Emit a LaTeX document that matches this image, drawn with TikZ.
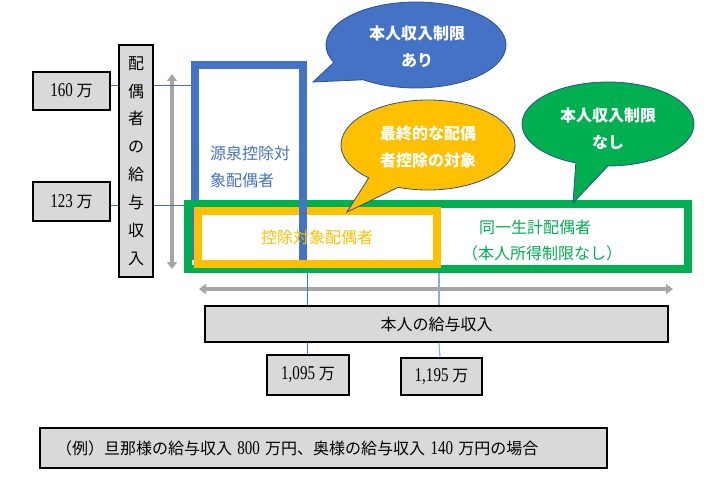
\documentclass[tikz,border=0pt]{standalone}
\usepackage{fontspec}
\setmainfont{Noto Sans CJK JP}
\newfontfamily\dgfont[Scale=1.22, FakeStretch=0.77]{Liberation Serif}
\usetikzlibrary{arrows.meta,calc}
\definecolor{boxgray}{HTML}{D9D9D9}
\definecolor{oblue}{HTML}{4472C4}
\definecolor{ogreen}{HTML}{00B050}
\definecolor{oyellow}{HTML}{FFC000}
\definecolor{ogray}{HTML}{A6A6A6}
\definecolor{outl}{HTML}{2F528F}
\definecolor{lblue}{HTML}{8FAADC}
\newcommand\fs{\fontsize{16}{19}\selectfont}
\begin{document}
\begin{tikzpicture}[x=1pt,y=-1pt,
  graybox/.style={draw=black, line width=1.2pt, fill=boxgray, inner sep=0pt, font=\fs},
  thinblue/.style={draw=oblue, line width=1pt},
  thinlblue/.style={draw=lblue, line width=1.1pt},
  grayarrow/.style={draw=ogray, line width=4.5pt, {Triangle[width=10pt,length=7pt]}-{Triangle[width=10pt,length=7pt]}},
  frame/.style={line width=8pt},
  bubble/.style={line width=0.8pt, draw=outl},
  bubtext/.style={text=white, align=center, font=\fontsize{16}{27}\selectfont\bfseries}]
\useasboundingbox (0,0) rectangle (708,478);

% boxes
\node[graybox, minimum width=77pt, minimum height=38pt] (b160) at (71.5,91) {{\dgfont 160 }万};
\node[graybox, minimum width=77pt, minimum height=39pt] (b123) at (71.5,201.5) {{\dgfont 123 }万};
\node[graybox, minimum width=34pt, minimum height=232pt, align=center,
      font=\fontsize{16}{27.86}\selectfont] (vlab) at (136,161) {配\\偶\\者\\の\\給\\与\\収\\入};
\node[graybox, minimum width=463pt, minimum height=36pt] (honnin) at (436.5,324) {本人の給与収入};
\node[graybox, minimum width=82pt, minimum height=40pt] (n1095) at (308,375) {{\dgfont 1,095 }万};
\node[graybox, minimum width=81pt, minimum height=37pt] (n1195) at (441.5,376.5) {{\dgfont 1,195 }万};
\node[graybox, minimum width=567pt, minimum height=40pt, text width=535pt, align=left] (ex) at (323.5,448)
  {（例）旦那様の給与収入{\dgfont\ 800\ }万円、奥様の給与収入{\dgfont\ 140\ }万円の場合};

% frames
\coordinate (bl) at (195,260);
\coordinate (bt) at (195,65);
\coordinate (br) at (303,65);
\coordinate (brb) at (303,260);
\draw[frame, draw=oblue] (bl) -- (bt) -- (br) -- (brb);
\draw[frame, draw=ogreen] (188,204) rectangle (688,269);
\draw[frame, draw=oyellow] (198,211) rectangle (437,264);
\draw[frame, draw=oblue] ([yshift=4pt]br) -- (brb);

% gray arrows
\coordinate (va1) at (172,74);
\coordinate (va2) at (172,269);
\draw[grayarrow] (va1) -- (va2);
\coordinate (ha1) at (199,289);
\coordinate (ha2) at (673,289);
\draw[grayarrow] (ha1) -- (ha2);

% connectors
\coordinate (blueL) at (191,86);
\coordinate (greenL) at (184,205);
\draw[thinblue] ([yshift=5pt]b160.east) -- ([yshift=5pt]b160.east -| vlab.west);
\draw[thinblue] ([yshift=5pt]b160.east -| vlab.east) -- (blueL);
\draw[thinblue] ([yshift=-3.5pt]b123.east) -- ([yshift=-3.5pt]b123.east -| vlab.west);
\draw[thinblue] ([yshift=-3.5pt]b123.east -| vlab.east) -- (greenL);
\coordinate (g1) at (307,273);
\coordinate (g2) at (439,273);
\draw[thinblue] (g1) -- (g1 |- honnin.north);
\draw[thinblue] (g1 |- honnin.south) -- (g1 |- n1095.north);
\draw[thinlblue] (g2) -- (g2 |- honnin.north);
\draw[thinlblue] (g2 |- honnin.south) -- ([xshift=1pt]g2 |- n1195.north);

% bubbles
\coordinate (cb) at (416,45);
\coordinate (tipb) at (313,82);
\filldraw[bubble, fill=oblue] (tipb) -- ($(cb)+(156:90 and 43)$)
  arc[start angle=156, end angle=486, x radius=90, y radius=43] -- cycle;
\coordinate (cy) at (428,145);
\coordinate (tipy) at (347,212);
\filldraw[bubble, fill=oyellow] (tipy) -- ($(cy)+(133:87 and 45)$)
  arc[start angle=133, end angle=470, x radius=87, y radius=45] -- cycle;
\coordinate (cg) at (608,124);
\coordinate (tipg) at (573,203);
\filldraw[bubble, fill=ogreen] (tipg) -- ($(cg)+(112:86 and 42)$)
  arc[start angle=112, end angle=450, x radius=86, y radius=42] -- cycle;

\node[bubtext] (tb) at (417,46.5) {本人収入制限\\あり};
\node[bubtext] (ty) at (428,146.5) {最終的な配偶\\者控除の対象};
\node[bubtext] (tg) at (608,128.5) {本人収入制限\\なし};

% texts
\node[text=oblue, align=left, anchor=west, inner sep=0pt, font=\fontsize{16}{27}\selectfont] (tblue) at (210,166.5) {源泉控除対\\象配偶者};
\node[text=oyellow, inner sep=0pt, font=\fs] (tyel) at (317,237) {控除対象配偶者};
\node[text=ogreen, inner sep=0pt, font=\fs] (tgr1) at (535,227) {同一生計配偶者};
\node[text=ogreen, inner sep=0pt, font=\fs] (tgr2) at (542,253) {（本人所得制限なし）};
\end{tikzpicture}
\end{document}
